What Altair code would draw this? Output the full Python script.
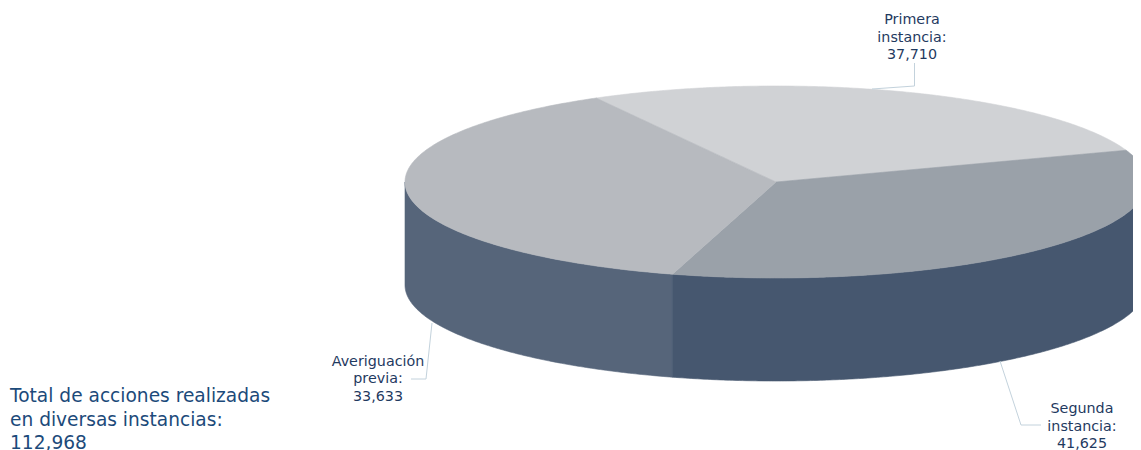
import math
import altair as alt

# Values as printed on the chart
categories = ["Primera instancia", "Segunda instancia", "Averiguación previa"]
values = ["37,710", "41,625", "33,633"]
total = "112,968"

# Boundary angles of the slices (degrees, counter-clockwise from east)
slice_start = [19.3, 253.8, 119.0]
slice_end = [119.0, 379.3, 253.8]
top_colors = ["#d0d2d5", "#9aa1a9", "#b7babf"]

# Visible wall pieces
wall_start = [180.0, 253.8]
wall_end = [253.8, 360.0]
wall_colors = ["#56657a", "#46576f"]

# Pie geometry
CX, CY, RX, RY, DEPTH = 768.0, 174.0, 371.0, 96.0, 103.0
W, H = 1125, 442


def rim(a0, a1, dy=0.0):
    n = max(2, int(abs(a1 - a0) * 2))
    pts = []
    for i in range(n + 1):
        a = math.radians(a0 + (a1 - a0) * i / n)
        pts.append([CX + RX * math.cos(a), CY - RY * math.sin(a) + dy])
    return pts


def feature(geom_type, coords, **props):
    return {"type": "Feature", "properties": props,
            "geometry": {"type": geom_type, "coordinates": coords}}


proj = alt.Projection(type="identity", scale=1, translate=[0, 0])

top = [feature("Polygon", [[[CX, CY]] + rim(s, e) + [[CX, CY]]], color=c, name=n)
       for s, e, c, n in zip(slice_start, slice_end, top_colors, categories)]
walls = []
for s, e, c in zip(wall_start, wall_end, wall_colors):
    ring = rim(s, e) + rim(e, s, DEPTH)
    ring.append(ring[0])
    walls.append(feature("Polygon", [ring], color=c))

wall_layer = alt.Chart(alt.Data(values=walls)).mark_geoshape(clip=True, strokeWidth=0.6).encode(
    color=alt.Color("properties.color:N", scale=None),
    stroke=alt.Color("properties.color:N", scale=None)).project(**proj.to_dict())
top_layer = alt.Chart(alt.Data(values=top)).mark_geoshape(clip=True, strokeWidth=0.6).encode(
    color=alt.Color("properties.color:N", scale=None),
    stroke=alt.Color("properties.color:N", scale=None)).project(**proj.to_dict())

leaders = [
    [[906.5, 55], [906.5, 78], [864, 81]],
    [[424, 315], [418, 371], [403, 371]],
    [[992, 353], [1013, 417], [1033, 417]],
]
leader_layer = alt.Chart(alt.Data(values=[feature("LineString", l) for l in leaders])).mark_geoshape(
    filled=False, stroke="#c3d2dc", strokeWidth=1).project(**proj.to_dict())

LABEL = "#1f3a5f"


def label(text, x, y, size=14.3, color=LABEL, align="center", lh=17.5):
    return alt.Chart(alt.Data(values=[{"t": text}])).mark_text(
        font="DejaVu Sans", fontSize=size, color=color, align=align, baseline="top",
        lineBreak="\n", lineHeight=lh).encode(
        text="t:N", x=alt.value(x), y=alt.value(y))


texts = [
    label(f"Primera\ninstancia:\n{values[0]}", 904, 5),
    label(f"Segunda\ninstancia:\n{values[1]}", 1074, 394),
    label(f"Averiguación\nprevia:\n{values[2]}", 370, 346.5),
    label(f"Total de acciones realizadas\nen diversas instancias:\n{total}", 2, 379,
          size=18.6, color="#1c4a7a", align="left", lh=23.5),
]

chart = alt.layer(wall_layer, top_layer, leader_layer, *texts).properties(
    width=W, height=H, padding=0, background="white",
    autosize=alt.AutoSizeParams(type="none")
).configure_view(stroke=None)

chart.save("out.html", embed_options={"renderer": "svg", "actions": False})
